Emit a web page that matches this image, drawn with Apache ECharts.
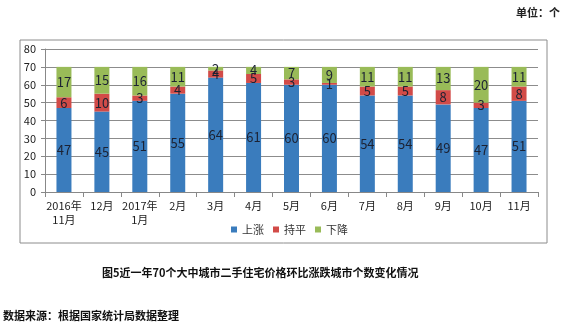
<!DOCTYPE html>
<html><head><meta charset="utf-8">
<script src="https://cdn.jsdelivr.net/npm/echarts@6/dist/echarts.min.js"></script>
<style>html,body{margin:0;padding:0;background:#fff}#c{width:568px;height:325px}</style>
</head><body><div id="c"></div>
<script>
const categories = ['2016年\n11月','12月','2017年\n1月','2月','3月','4月','5月','6月','7月','8月','9月','10月','11月'];
const upValues = [47,45,51,55,64,61,60,60,54,54,49,47,51];
const flatValues = [6,10,3,4,4,5,3,1,5,5,8,3,8];
const downValues = [17,15,16,11,2,4,7,9,11,11,13,20,11];
const yTicks = [0,10,20,30,40,50,60,70,80];
const seriesNames = ['上涨','持平','下降'];

const font = '"Noto Sans CJK SC", "Noto Sans", sans-serif';
const chart = echarts.init(document.getElementById('c'), null, {renderer:'canvas'});
const lbl = {show:true, position:'inside', color:'#1c2233', fontSize:13, fontFamily:font};
function mk(name, data, color){
  return {name, type:'bar', stack:'s', data, barWidth:15, itemStyle:{color}, label:lbl};
}
chart.setOption({
  animation:false,
  textStyle:{fontFamily:font},
  graphic:[
    {type:'rect', shape:{x:20,y:40,width:527,height:203}, style:{fill:'none', stroke:'#8c8c8c', lineWidth:1}, z:-1},
    {type:'text', left:516, top:7, style:{text:'单位：个', fill:'#222', font:'bold 11px '+font}},
    {type:'text', left:102, top:267, style:{text:'图5近一年70个大中城市二手住宅价格环比涨跌城市个数变化情况', fill:'#111', font:'bold 11px '+font}},
    {type:'text', left:3, top:310, style:{text:'数据来源：根据国家统计局数据整理', fill:'#111', font:'bold 11px '+font}}
  ],
  grid:{left:45, right:30, top:49, bottom:133, containLabel:false},
  legend:{data:seriesNames, left:226, top:219, itemWidth:6, itemHeight:6, itemGap:9, icon:'rect',
    textStyle:{fontSize:11, color:'#333', fontFamily:font}},
  xAxis:{type:'category', data:categories,
    axisLine:{lineStyle:{color:'#888'}},
    axisTick:{show:true, alignWithLabel:false, lineStyle:{color:'#888'}},
    axisLabel:{color:'#222', fontSize:11, lineHeight:14, interval:0, margin:7}},
  yAxis:{type:'value', min:yTicks[0], max:yTicks[yTicks.length-1], interval:10,
    axisLine:{show:true, lineStyle:{color:'#888'}},
    axisTick:{show:true, length:4, lineStyle:{color:'#888'}},
    splitLine:{lineStyle:{color:'#8c8c8c'}},
    axisLabel:{color:'#222', fontSize:11, margin:9}},
  series:[
    mk(seriesNames[0], upValues, '#3a7cbd'),
    mk(seriesNames[1], flatValues, '#d24b48'),
    mk(seriesNames[2], downValues, '#99bb58')
  ]
});
</script></body></html>
